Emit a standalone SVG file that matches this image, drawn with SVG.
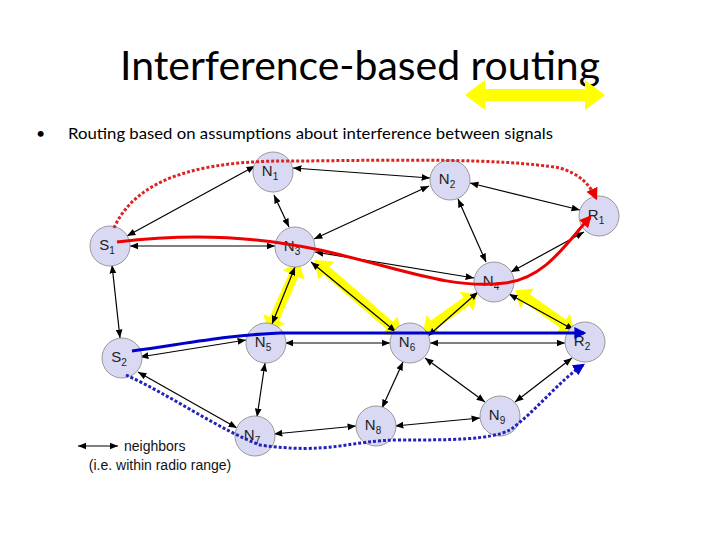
<svg xmlns="http://www.w3.org/2000/svg" width="720" height="540" viewBox="0 0 720 540">
<defs>
<marker id="a" viewBox="0 0 10 10" refX="10" refY="5" markerWidth="7" markerHeight="7" orient="auto-start-reverse"><path d="M0,1 L10,5 L0,9 z" fill="#000"/></marker>
<marker id="ar" viewBox="0 0 10 10" refX="8" refY="5" markerWidth="4" markerHeight="4" orient="auto"><path d="M0,0 L10,5 L0,10 z" fill="#e00"/></marker>
<marker id="ab" viewBox="0 0 10 10" refX="8" refY="5" markerWidth="4" markerHeight="4" orient="auto"><path d="M0,0 L10,5 L0,10 z" fill="#00c"/></marker>
</defs>
<style>
.n circle{fill:#d9d9f3;stroke:#999;stroke-width:1}
.n text{font-family:"Liberation Sans",Arial,sans-serif;font-size:15px;fill:#222;text-anchor:middle}
.e line{stroke:#000;stroke-width:1.2;marker-start:url(#a);marker-end:url(#a)}
.y{fill:#ffff00}
</style>
<rect width="720" height="540" fill="#fff"/>
<text x="360" y="80" font-family="Lato,'Open Sans',sans-serif" font-size="40" text-anchor="middle" textLength="480" lengthAdjust="spacingAndGlyphs">Interference-based routing</text>
<text x="36" y="139" font-family="Lato,'Open Sans',sans-serif" font-size="16">•</text>
<text x="68" y="139" font-family="Lato,'Open Sans',sans-serif" font-size="16" textLength="485" lengthAdjust="spacingAndGlyphs">Routing based on assumptions about interference between signals</text>
<g id="yellow">
<path class="y" d="M465,95 L485,80 L485,89 L585,89 L585,80 L605,95 L585,110 L585,101 L485,101 L485,110 z"/>
<g transform="translate(284,297) rotate(-66)"><path class="y" d="M-38,0 L-24,-12 L-24,-5 L24,-5 L24,-12 L38,0 L24,12 L24,5 L-24,5 L-24,12 z"/></g>
<g transform="translate(358,298) rotate(41)"><path class="y" d="M-58,0 L-42,-12 L-42,-5 L42,-5 L42,-12 L58,0 L42,12 L42,5 L-42,5 L-42,12 z"/></g>
<g transform="translate(450,313) rotate(-35)"><path class="y" d="M-33,0 L-20,-12 L-20,-5 L20,-5 L20,-12 L33,0 L20,12 L20,5 L-20,5 L-20,12 z"/></g>
<g transform="translate(545,311) rotate(35)"><path class="y" d="M-36,0 L-22,-12 L-22,-5 L22,-5 L22,-12 L36,0 L22,12 L22,5 L-22,5 L-22,12 z"/></g>
</g>
<g id="connectors" class="e">
<line x1="127" y1="236" x2="255" y2="166"/>
<line x1="130" y1="246" x2="275" y2="246"/>
<line x1="112" y1="265" x2="120" y2="338"/>
<line x1="293" y1="168" x2="430" y2="178"/>
<line x1="274" y1="195" x2="289" y2="227"/>
<line x1="429" y1="186" x2="314" y2="239"/>
<line x1="470" y1="183" x2="580" y2="210"/>
<line x1="458" y1="199" x2="486" y2="262"/>
<line x1="315" y1="252" x2="474" y2="278"/>
<line x1="584" y1="232" x2="511" y2="272"/>
<line x1="295" y1="267" x2="272" y2="324"/>
<line x1="311" y1="262" x2="396" y2="332"/>
<line x1="478" y1="292" x2="428" y2="336"/>
<line x1="509" y1="294" x2="574" y2="330"/>
<line x1="140" y1="357" x2="246" y2="340"/>
<line x1="138" y1="372" x2="237" y2="428"/>
<line x1="285" y1="343" x2="390" y2="343"/>
<line x1="430" y1="343" x2="565" y2="343"/>
<line x1="265" y1="363" x2="257" y2="417"/>
<line x1="274" y1="434" x2="356" y2="426"/>
<line x1="403" y1="362" x2="382" y2="408"/>
<line x1="425" y1="358" x2="485" y2="402"/>
<line x1="395" y1="426" x2="480" y2="418"/>
<line x1="572" y1="358" x2="515" y2="402"/>
<line x1="78" y1="446" x2="118" y2="446"/>
</g>
<g id="nodes">
<g id="N1" class="n"><circle cx="273" cy="172" r="20"/><text x="270" y="176">N<tspan font-size="10" dy="4">1</tspan></text></g>
<g id="N2" class="n"><circle cx="450" cy="180" r="20"/><text x="447" y="184">N<tspan font-size="10" dy="4">2</tspan></text></g>
<g id="R1" class="n"><circle cx="599" cy="216" r="20"/><text x="596" y="220">R<tspan font-size="10" dy="4">1</tspan></text></g>
<g id="S1" class="n"><circle cx="110" cy="246" r="20"/><text x="107" y="250">S<tspan font-size="10" dy="4">1</tspan></text></g>
<g id="N3" class="n"><circle cx="295" cy="247" r="20"/><text x="292" y="251">N<tspan font-size="10" dy="4">3</tspan></text></g>
<g id="N4" class="n"><circle cx="494" cy="282" r="20"/><text x="491" y="286">N<tspan font-size="10" dy="4">4</tspan></text></g>
<g id="N5" class="n"><circle cx="266" cy="343" r="20"/><text x="263" y="347">N<tspan font-size="10" dy="4">5</tspan></text></g>
<g id="N6" class="n"><circle cx="410" cy="343" r="20"/><text x="407" y="347">N<tspan font-size="10" dy="4">6</tspan></text></g>
<g id="R2" class="n"><circle cx="585" cy="342" r="20"/><text x="582" y="346">R<tspan font-size="10" dy="4">2</tspan></text></g>
<g id="S2" class="n"><circle cx="122" cy="358" r="20"/><text x="119" y="362">S<tspan font-size="10" dy="4">2</tspan></text></g>
<g id="N7" class="n"><circle cx="255" cy="436" r="20"/><text x="252" y="440">N<tspan font-size="10" dy="4">7</tspan></text></g>
<g id="N8" class="n"><circle cx="376" cy="426" r="20"/><text x="373" y="430">N<tspan font-size="10" dy="4">8</tspan></text></g>
<g id="N9" class="n"><circle cx="500" cy="416" r="20"/><text x="497" y="420">N<tspan font-size="10" dy="4">9</tspan></text></g>
</g>
<g id="paths" fill="none">
<path d="M117,242 C200,232 260,238 320,250 C400,268 450,290 505,283 C545,278 565,245 590,217" stroke="#e00" stroke-width="3" marker-end="url(#ar)"/>
<path d="M114,228 C140,170 220,160 300,161 C400,160 500,158 560,168 C580,174 590,185 596,198" stroke="#d22" stroke-width="3" stroke-dasharray="3,2" marker-end="url(#ar)"/>
<path d="M132,351 C190,343 230,335 280,333 L584,333" stroke="#00c" stroke-width="3" marker-end="url(#ab)"/>
<path d="M126,375 C170,395 220,430 260,445 C330,455 350,440 400,440 C450,440 490,440 510,430 C535,412 560,380 583,365" stroke="#22b" stroke-width="3" stroke-dasharray="3,2" marker-end="url(#ab)"/>
</g>
<g font-family="'Liberation Sans',Arial,sans-serif" font-size="14" fill="#111">
<text x="124" y="451">neighbors</text>
<text x="160" y="470" text-anchor="middle">(i.e. within radio range)</text>
</g>
</svg>
